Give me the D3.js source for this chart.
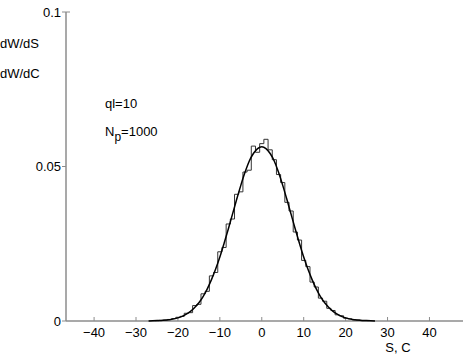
<!DOCTYPE html>
<html>
<head>
<meta charset="utf-8">
<script src="https://cdn.jsdelivr.net/npm/d3@7"></script>
<style>
  body { margin: 0; background: #fff; }
  text { font-family: "Liberation Sans", Arial, sans-serif; font-size: 13px; fill: #000; }
</style>
</head>
<body>
<script>

var width = 463;
var height = 357;

// histogram dW/dS : bin centres and heights (bin width 1)
var binCenters = [-25,-24,-23,-22,-21,-20,-19,-18,-17,-16,-15,-14,-13,-12,-11,-10,-9,-8,-7,-6,-5,-4,-3,-2,-1,
                  0,1,2,3,4,5,6,7,8,9,10,11,12,13,14,15,16,17,18,19,20,21,22,23,24,25];
var binHeights = [0.0001,0.0002,0.0003,0.0005,0.0008,0.0012,0.0015,0.0025,0.0027,0.0050,0.0054,0.0088,0.0096,0.0146,0.0157,
                  0.0224,0.0238,0.0314,0.0330,0.0410,0.0418,0.0482,0.0488,0.0566,0.0546,
                  0.0574,0.0588,0.0554,0.0522,0.0474,0.0448,0.0384,0.0356,0.0288,0.0262,0.0196,0.0176,0.0126,0.0110,
                  0.0074,0.0064,0.0041,0.0034,0.0020,0.0017,0.0009,0.0007,0.0004,0.0003,0.0001,0.0001];

// curve dW/dC
var curveX = [-27,-26,-24,-22,-20,-19,-18,-17,-16,-15,-14,-13,-12,-11,-10,-9,-8,-7,-6,-5,-4,-3,-2,-1,
              0,1,2,3,4,5,6,7,8,9,10,11,12,13,14,15,16,17,18,19,20,22,24,26,27];
var curveY = [0.0000,0.0001,0.0002,0.0004,0.0010,0.0015,0.0022,0.0031,0.0044,0.0059,0.0079,0.0104,0.0134,0.0168,
              0.0207,0.0251,0.0297,0.0345,0.0393,0.0439,0.0481,0.0517,0.0542,0.0558,
              0.0564,0.0558,0.0542,0.0517,0.0481,0.0439,0.0393,0.0345,0.0297,0.0251,0.0207,0.0168,0.0134,0.0104,
              0.0079,0.0059,0.0044,0.0031,0.0022,0.0015,0.0010,0.0004,0.0002,0.0001,0.0000];

var xTicks = [-40,-30,-20,-10,0,10,20,30,40];
var yTicks = [0, 0.05, 0.1];
var yTickLabels = ["0", "0.05", "0.1"];

var svg = d3.select("body")
      .append("svg")
      .attr("width", width)
      .attr("height", height);

var x = d3.scaleLinear().domain([-46.7, 48]).range([66, 463]);
var y = d3.scaleLinear().domain([0, 0.1]).range([321, 12]);

var axisColor = "#8c8c8c";

// axes lines
svg.append("line")
  .attr("x1", 66).attr("x2", 66)
  .attr("y1", y(0.1)).attr("y2", y(0))
  .attr("stroke", axisColor).attr("stroke-width", 1.5);
svg.append("line")
  .attr("x1", 66).attr("x2", width)
  .attr("y1", y(0)).attr("y2", y(0))
  .attr("stroke", axisColor).attr("stroke-width", 1.5);

// y ticks (outward) and top cap
svg.selectAll("line.ytick")
  .data(yTicks)
  .enter().append("line")
  .attr("class", "ytick")
  .attr("x1", 62).attr("x2", 66)
  .attr("y1", function(d) { return y(d); })
  .attr("y2", function(d) { return y(d); })
  .attr("stroke", axisColor);
svg.append("line")
  .attr("x1", 66).attr("x2", 70)
  .attr("y1", y(0.1)).attr("y2", y(0.1))
  .attr("stroke", axisColor);

svg.selectAll("text.ylab")
  .data(yTicks)
  .enter().append("text")
  .attr("class", "ylab")
  .attr("x", 61)
  .attr("y", function(d) { return y(d); })
  .attr("dy", "0.35em")
  .attr("text-anchor", "end")
  .text(function(d, i) { return yTickLabels[i]; });

// x ticks (inward)
svg.selectAll("line.xtick")
  .data(xTicks)
  .enter().append("line")
  .attr("class", "xtick")
  .attr("x1", function(d) { return x(d); })
  .attr("x2", function(d) { return x(d); })
  .attr("y1", y(0) - 4).attr("y2", y(0))
  .attr("stroke", axisColor);

svg.selectAll("text.xlab")
  .data(xTicks)
  .enter().append("text")
  .attr("class", "xlab")
  .attr("x", function(d) { return x(d); })
  .attr("y", 337)
  .attr("text-anchor", "middle")
  .text(function(d) { return d < 0 ? "\u2212" + (-d) : d; });

svg.append("text")
  .attr("x", x(32.5)).attr("y", 352)
  .attr("text-anchor", "middle")
  .text("S, C");

// histogram staircase
var stairs = [];
binCenters.forEach(function(c, i) {
  if (i == 0) stairs.push([c - 0.5, 0]);
  stairs.push([c - 0.5, binHeights[i]]);
  stairs.push([c + 0.5, binHeights[i]]);
  if (i == binCenters.length - 1) stairs.push([c + 0.5, 0]);
});

var line = d3.line()
  .x(function(d) { return x(d[0]); })
  .y(function(d) { return y(d[1]); });

svg.append("path")
  .datum(stairs)
  .attr("d", line)
  .attr("fill", "none")
  .attr("stroke", "#333")
  .attr("stroke-width", 1);

// smooth curve
var curvePts = curveX.map(function(v, i) { return [v, curveY[i]]; });
svg.append("path")
  .datum(curvePts)
  .attr("d", d3.line()
    .x(function(d) { return x(d[0]); })
    .y(function(d) { return y(d[1]); })
    .curve(d3.curveMonotoneX))
  .attr("fill", "none")
  .attr("stroke", "#000")
  .attr("stroke-width", 1.5);

// labels
svg.append("text").attr("x", 0).attr("y", 48).text("dW/dS");
svg.append("text").attr("x", 0).attr("y", 78).text("dW/dC");
svg.append("text").attr("x", 105).attr("y", 108).text("ql=10");

var np = svg.append("text").attr("x", 105).attr("y", 136);
np.append("tspan").text("N");
np.append("tspan").attr("dy", 5).attr("font-size", "12px").text("p");
np.append("tspan").attr("dy", -5).text("=1000");

</script>
</body>
</html>
